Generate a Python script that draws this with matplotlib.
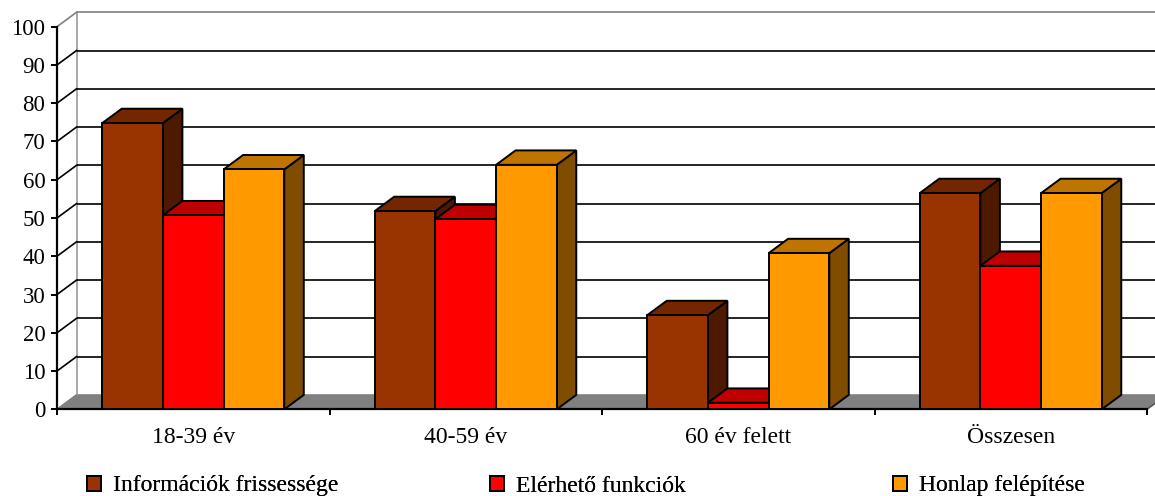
import matplotlib
matplotlib.use("Agg")
import matplotlib.pyplot as plt
from matplotlib.patches import Polygon, Patch
from matplotlib.ticker import FixedLocator, NullFormatter, FixedFormatter

plt.rcParams['font.family'] = ['Liberation Serif', 'DejaVu Serif']

# --- data -------------------------------------------------------------
categories = ["18-39 év", "40-59 év", "60 év felett", "Összesen"]
series_names = ["Információk frissessége", "Elérhető funkciók", "Honlap felépítése"]
info_freshness = [74.8, 51.8, 24.6, 56.5]
available_functions = [50.7, 49.7, 1.7, 37.5]
site_structure = [62.7, 63.9, 40.8, 56.5]
yticks = list(range(0, 101, 10))

series_values = [info_freshness, available_functions, site_structure]
front_colors = [(0.6, 0.2, 0.0), (1.0, 0.0, 0.0), (1.0, 0.6, 0.0)]

# --- figure / axes (front plane of the 3-D box) -------------------------
W, H = 1155, 496
fig = plt.figure(figsize=(W / 100, H / 100), dpi=100)
ax = fig.add_axes([57 / W, (H - 409.3) / H, 1090 / W, 382.6 / H])
ax.set_xlim(0, len(categories))
ax.set_ylim(0, 100)
ax.patch.set_visible(False)

# depth of the box in pixels, converted to data units via the axes scale
DEPTH_PX = (19.5, 14.4)
p0 = ax.transData.transform((0, 0))
p1 = ax.transData.transform((1, 1))
dx = DEPTH_PX[0] / (p1[0] - p0[0])
dy = DEPTH_PX[1] / (p1[1] - p0[1])
n = len(categories)
far_right = n + 0.2

# floor
ax.add_patch(Polygon([(0, 0), (n, 0), (n + dx, dy), (dx, dy)],
                     closed=True, facecolor="#808080", edgecolor="#808080",
                     lw=1.0, clip_on=False, zorder=1))
ax.plot([n, n + dx], [0, dy], color="#555555", lw=1.0, clip_on=False, zorder=1.05)

# walls: gridlines on back wall plus diagonals on the side wall
for v in yticks[1:]:
    c = "#808080" if v == 100 else "black"
    ax.plot([dx, far_right], [v + dy, v + dy], color=c, lw=1.2,
            clip_on=False, zorder=1.2, solid_capstyle="butt")
    ax.plot([0, dx], [v, v + dy], color=c, lw=1.2, clip_on=False, zorder=1.2)
ax.plot([dx, dx], [dy, 100 + dy], color="#999999", lw=1.2, clip_on=False, zorder=1.1)
ax.plot([0, dx], [0, dy], color="#808080", lw=1.0, clip_on=False, zorder=1.3)

# --- 3-D columns ----------------------------------------------------------
bw = 0.2227
handles = []
for j, (vals, col) in enumerate(zip(series_values, front_colors)):
    top_c = tuple(0.75 * c for c in col)
    side_c = tuple(0.5 * c for c in col)
    lefts = [i + 0.5 + (j - 1.5) * bw for i in range(n)]
    bars = ax.bar(lefts, vals, width=bw, align="edge", color=col,
                  edgecolor="black", linewidth=1.4, clip_on=False)
    for i, (x0, h, patch) in enumerate(zip(lefts, vals, bars.patches)):
        zz = 3 + i * 1.0 + j * 0.1
        side = Polygon([(x0 + bw, 0), (x0 + bw + dx, dy), (x0 + bw + dx, h + dy), (x0 + bw, h)],
                       closed=True, facecolor=side_c, edgecolor="black", lw=1.4,
                       clip_on=False, zorder=zz, joinstyle="miter")
        top = Polygon([(x0, h), (x0 + bw, h), (x0 + bw + dx, h + dy), (x0 + dx, h + dy)],
                      closed=True, facecolor=top_c, edgecolor="black", lw=1.4,
                      clip_on=False, zorder=zz + 0.01, joinstyle="miter")
        ax.add_patch(side)
        ax.add_patch(top)
        patch.set_zorder(zz + 0.02)
    handles.append(Patch(facecolor=col, edgecolor="black", linewidth=1.4,
                         label=series_names[j]))

# --- axes lines, ticks, labels ---------------------------------------------
for s in ("top", "right"):
    ax.spines[s].set_visible(False)
for s in ("left", "bottom"):
    ax.spines[s].set_linewidth(1.6)
    ax.spines[s].set_zorder(2.5)
ax.spines["left"].set_bounds(0, 100)
ax.spines["bottom"].set_bounds(0, n)

ax.set_yticks(yticks)
ax.set_yticklabels([str(v) for v in yticks])
ax.tick_params(axis="y", direction="out", length=4.3, width=1.4, pad=4,
               labelsize=16.5, colors="black")

ax.xaxis.set_major_locator(FixedLocator(list(range(n + 1))))
ax.xaxis.set_major_formatter(NullFormatter())
ax.xaxis.set_minor_locator(FixedLocator([i + 0.5 for i in range(n)]))
ax.xaxis.set_minor_formatter(FixedFormatter(categories))
ax.tick_params(axis="x", which="major", direction="out", length=4.3, width=1.4)
ax.tick_params(axis="x", which="minor", length=0, pad=13, labelsize=17)

# --- legend: three evenly spread entries on one line ------------------------
legend_x = [86.7, 490, 893]
for hnd, lx in zip(handles, legend_x):
    leg = fig.legend(handles=[hnd], loc="lower left",
                     bbox_to_anchor=(lx / W, -0.5 / H),
                     frameon=False, fontsize=17, borderpad=0, borderaxespad=0,
                     handlelength=0.6, handleheight=0.6, handletextpad=0.5)
    fig.add_artist(leg)

fig.savefig("out.png", dpi=100)
